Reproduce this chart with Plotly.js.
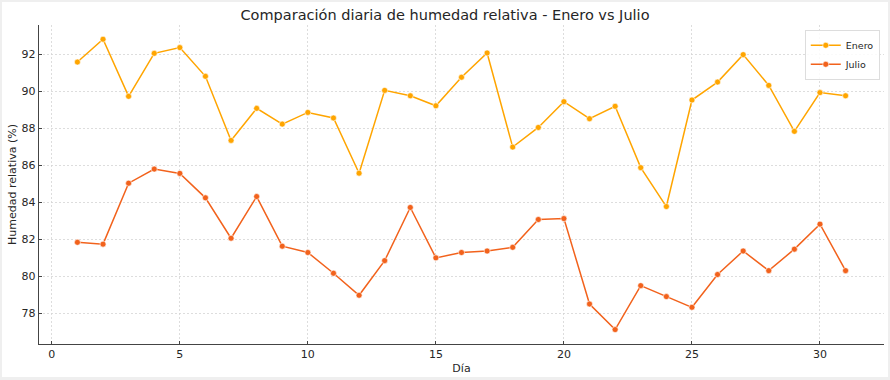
<!DOCTYPE html>
<html>
<head>
<meta charset="utf-8">
<script src="https://cdn.plot.ly/plotly-3.0.1.min.js"></script>
<style>
html,body{margin:0;padding:0;background:#efefef;}
#wrap{position:absolute;left:2px;top:2px;width:886px;height:375px;background:#fff;overflow:hidden;}
#chart{position:absolute;left:-2px;top:-2px;width:890px;height:380px;}
</style>
</head>
<body>
<div id="wrap"><div id="chart"></div></div>
<script>
const dias = [1,2,3,4,5,6,7,8,9,10,11,12,13,14,15,16,17,18,19,20,21,22,23,24,25,26,27,28,29,30,31];
const enero = [91.58,92.81,89.73,92.05,92.36,90.81,87.35,89.08,88.23,88.86,88.56,85.58,90.05,89.76,89.22,90.76,92.07,86.99,88.05,89.44,88.52,89.19,85.88,83.78,89.53,90.5,91.98,90.32,87.84,89.93,89.76];
const julio = [81.85,81.75,85.04,85.8,85.57,84.25,82.07,84.32,81.64,81.3,80.18,78.99,80.86,83.73,81.01,81.3,81.38,81.58,83.08,83.13,78.52,77.14,79.51,78.92,78.34,80.11,81.38,80.32,81.48,82.83,80.32];
const xTicks = [0,5,10,15,20,25,30];
const yTicks = [78,80,82,84,86,88,90,92];

const font = 'DejaVu Sans, sans-serif';
function serie(name, y, color){
  return {x: dias, y: y, name: name, type: 'scatter', mode: 'lines+markers',
    line: {color: color, width: 1.5},
    marker: {color: color, size: 6, line: {color: '#ffffff', width: 0.6}}};
}
const data = [serie('Enero', enero, '#FFA500'), serie('Julio', julio, '#F2621C')];
const layout = {
  width: 890, height: 380,
  margin: {l: 39, r: 6, t: 25, b: 36},
  paper_bgcolor: 'rgba(0,0,0,0)', plot_bgcolor: '#ffffff',
  font: {family: font, color: '#262626', size: 11},
  title: {text: 'Comparación diaria de humedad relativa - Enero vs Julio', font: {family: font, size: 14.5, color: '#262626'}, x: 0.5, xanchor: 'center', y: 0.975, yanchor: 'top'},
  xaxis: {range: [-0.5, 32.5], tickvals: xTicks, ticks: 'inside', ticklen: 3, tickcolor: '#444', tickwidth: 1,
    showline: true, linecolor: '#444', linewidth: 1.2, zeroline: false,
    showgrid: true, gridcolor: '#d4d4d4', griddash: '2px,2px', gridwidth: 0.8,
    title: {text: 'Día', font: {size: 11}, standoff: 3}, tickfont: {size: 11}},
  yaxis: {range: [76.36, 93.58], tickvals: yTicks, ticks: 'inside', ticklen: 3, tickcolor: '#444', tickwidth: 1,
    showline: true, linecolor: '#444', linewidth: 1.2, zeroline: false,
    showgrid: true, gridcolor: '#d4d4d4', griddash: '2px,2px', gridwidth: 0.8,
    title: {text: 'Humedad relativa (%)', font: {size: 11}, standoff: 2}, tickfont: {size: 11}},
  legend: {x: 0.995, xanchor: 'right', y: 0.985, yanchor: 'top', bgcolor: 'rgba(255,255,255,0.85)',
    bordercolor: '#dddddd', borderwidth: 1, font: {size: 9.5}, tracegroupgap: 0, itemwidth: 30},
  showlegend: true
};
Plotly.newPlot('chart', data, layout, {displayModeBar: false, staticPlot: true});
</script>
</body>
</html>
